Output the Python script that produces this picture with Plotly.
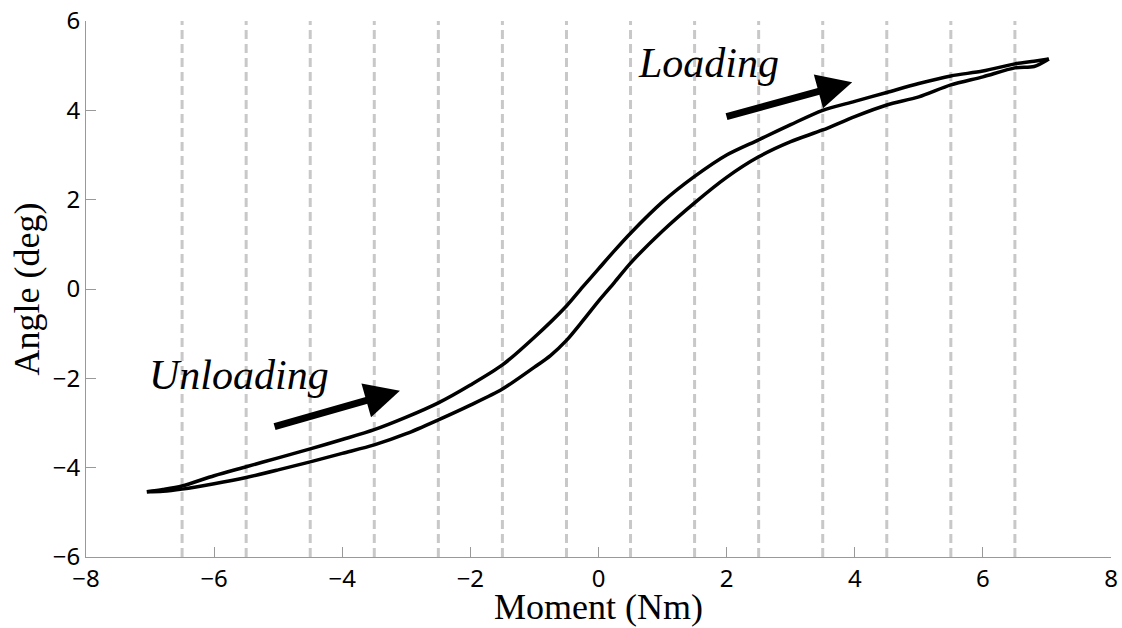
import plotly.graph_objects as go

# Upper branch of the hysteresis loop (Moment Nm, Angle deg)
upper_x = [-7.05, -6.8, -6.5, -6.0, -5.5, -5.0, -4.5, -4.0, -3.5, -3.0, -2.5, -2.0, -1.5, -1.0,
           -0.5, -0.25, 0.0, 0.25, 0.5, 1.0, 1.5, 2.0, 2.5, 3.0, 3.5, 4.0, 4.5, 5.0, 5.5, 6.0,
           6.5, 6.8, 7.03]
upper_y = [-4.54, -4.49, -4.41, -4.18, -3.98, -3.78, -3.58, -3.37, -3.15, -2.87, -2.55, -2.15,
           -1.70, -1.08, -0.38, 0.04, 0.45, 0.86, 1.25, 1.95, 2.52, 3.0, 3.34, 3.68, 4.0, 4.2,
           4.40, 4.60, 4.77, 4.88, 5.04, 5.10, 5.15]

# Lower branch
lower_x = [-7.05, -6.8, -6.5, -6.0, -5.5, -5.0, -4.5, -4.0, -3.5, -3.0, -2.5, -2.0, -1.5, -1.0,
           -0.75, -0.5, -0.25, 0.0, 0.25, 0.5, 1.0, 1.5, 2.0, 2.5, 3.0, 3.5, 4.0, 4.5, 5.0, 5.5,
           6.0, 6.5, 6.8, 7.03]
lower_y = [-4.54, -4.53, -4.48, -4.36, -4.22, -4.05, -3.87, -3.68, -3.49, -3.24, -2.93, -2.60,
           -2.24, -1.75, -1.49, -1.15, -0.72, -0.27, 0.15, 0.58, 1.30, 1.93, 2.50, 2.96, 3.30,
           3.56, 3.86, 4.12, 4.30, 4.57, 4.75, 4.95, 4.98, 5.15]

# Dashed vertical reference lines (Moment, Nm)
dash_positions = [-6.5, -5.5, -4.5, -3.5, -2.5, -1.5, -0.5, 0.5, 1.5, 2.5, 3.5, 4.5, 5.5, 6.5]

x_ticks = [-8, -6, -4, -2, 0, 2, 4, 6, 8]
x_ticktext = ["\u22128", "\u22126", "\u22124", "\u22122", "0", "2", "4", "6", "8"]
y_ticks = [-6, -4, -2, 0, 2, 4, 6]
y_ticktext = ["\u22126", "\u22124", "\u22122", "0", "2", "4", "6"]

x_title = "Moment (Nm)"
y_title = "Angle (deg)"

fig = go.Figure()

# dashed lines
dx, dy = [], []
for p in dash_positions:
    dx += [p, p, None]
    dy += [-6, 6, None]
fig.add_trace(go.Scatter(x=dx, y=dy, mode="lines",
                         line=dict(color="#c8c8c8", width=3, dash="9px,5px"),
                         hoverinfo="skip", showlegend=False))

for xs, ys in [(upper_x, upper_y), (lower_x, lower_y)]:
    fig.add_trace(go.Scatter(x=xs, y=ys, mode="lines",
                             line=dict(color="black", width=3.5, shape="spline", smoothing=0.8),
                             showlegend=False))

serif = "Liberation Serif"

fig.add_annotation(x=-5.61, y=-1.92, xref="x", yref="y", text="<i>Unloading</i>",
                   showarrow=False, font=dict(family=serif, size=42, color="black"))
fig.add_annotation(x=1.71, y=5.06, xref="x", yref="y", text="<i>Loading</i>",
                   showarrow=False, font=dict(family=serif, size=42, color="black"))

fig.add_annotation(x=-3.10, y=-2.28, ax=-5.08, ay=-3.09, xref="x", yref="y",
                   axref="x", ayref="y", text="", showarrow=True,
                   arrowhead=2, arrowwidth=7, arrowsize=1, arrowcolor="black")
fig.add_annotation(x=3.96, y=4.63, ax=1.975, ay=3.85, xref="x", yref="y",
                   axref="x", ayref="y", text="", showarrow=True,
                   arrowhead=2, arrowwidth=7, arrowsize=1, arrowcolor="black")

# axis titles as annotations for precise placement
fig.add_annotation(x=0.5, y=-0.052, xref="paper", yref="paper", text=x_title,
                   showarrow=False, xanchor="center", yanchor="top",
                   font=dict(family=serif, size=36, color="black"))
fig.add_annotation(x=-0.058, y=0.5, xref="paper", yref="paper", text=y_title,
                   showarrow=False, xanchor="center", yanchor="middle", textangle=-90,
                   font=dict(family=serif, size=36, color="black"))

axis_common = dict(showgrid=False, zeroline=False, showline=True, linecolor="#999999",
                   linewidth=1, ticks="inside", ticklen=10, tickcolor="#999999",
                   automargin=False,
                   tickfont=dict(family="Noto Sans", size=24, color="black"))

fig.update_xaxes(range=[-8, 8], tickvals=x_ticks, ticktext=x_ticktext, **axis_common)
fig.update_yaxes(range=[-6, 6], tickvals=y_ticks, ticktext=y_ticktext, **axis_common)

fig.update_layout(width=1122, height=628, plot_bgcolor="white", paper_bgcolor="white",
                  margin=dict(l=86, r=11, t=21, b=71), showlegend=False)

fig.write_html("out.html")
